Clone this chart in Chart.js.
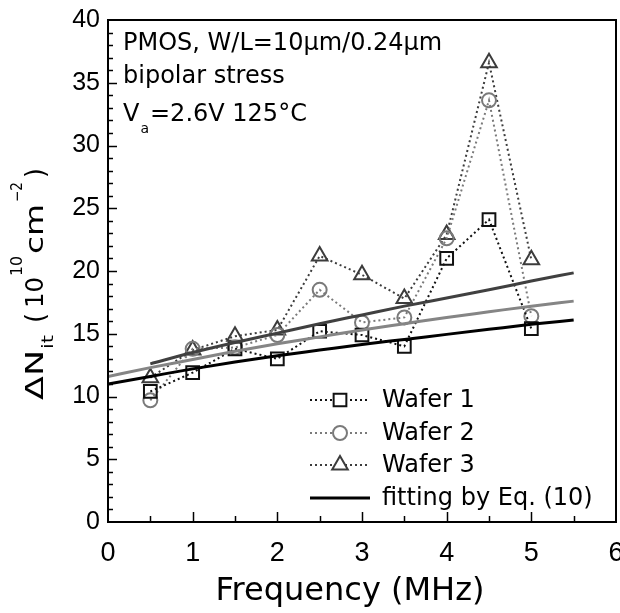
<!DOCTYPE html>
<html><head><meta charset="utf-8">
<script src="https://cdn.jsdelivr.net/npm/chart.js@4/dist/chart.umd.min.js"></script>
<style>html,body{margin:0;padding:0;background:#fff;overflow:hidden}#wrap{width:620px;height:613px;position:relative;overflow:hidden}</style>
</head><body><div id="wrap"><canvas id="c" width="627" height="613"></canvas></div>
<script>
// ---- data ----
const frequencies = [0.5, 1, 1.5, 2, 2.5, 3, 3.5, 4, 4.5, 5];
const wafer1 = [10.4, 11.9, 13.8, 13.0, 15.2, 14.9, 14.0, 21.0, 24.1, 15.4];
const wafer2 = [9.7, 13.8, 13.9, 14.9, 18.5, 15.9, 16.3, 22.6, 33.6, 16.4];
const wafer3 = [11.5, 13.7, 14.8, 15.3, 21.2, 19.7, 17.8, 22.9, 36.6, 20.9];
const fitFreqA = [0.5, 1, 1.5, 2, 2.5, 3, 3.5, 4, 4.5, 5, 5.5];
const fit3 = [12.6, 13.5, 14.3, 15.05, 15.8, 16.5, 17.2, 17.85, 18.5, 19.2, 19.85];
const fitFreqB = [0, 0.5, 1, 1.5, 2, 2.5, 3, 3.5, 4, 4.5, 5, 5.5];
const fit2 = [11.6, 12.3, 12.95, 13.6, 14.2, 14.75, 15.3, 15.8, 16.3, 16.75, 17.2, 17.6];
const fit1 = [11.0, 11.6, 12.2, 12.75, 13.25, 13.7, 14.15, 14.55, 14.95, 15.35, 15.75, 16.1];
const xLimits = [0, 6];
const yLimits = [0, 40];
const seriesNames = ['Wafer 1', 'Wafer 2', 'Wafer 3', 'fitting by Eq. (10)'];

const C1 = '#111111', C2 = '#7a7a7a', C3 = '#3c3c3c';
const pts = (xs, ys) => xs.map((x, i) => ({x, y: ys[i]}));

function waferSet(label, ys, color, style, radius) {
  return { label, data: pts(frequencies, ys), borderColor: color, backgroundColor: 'rgba(0,0,0,0)',
    borderWidth: 2, borderDash: [2, 3], pointStyle: style, pointRadius: radius, pointBorderColor: color,
    pointBorderWidth: 2, pointBackgroundColor: 'rgba(0,0,0,0)', showLine: true, tension: 0, order: 2 };
}
function fitSet(xs, ys, color) {
  return { label: seriesNames[3], data: pts(xs, ys), borderColor: color, borderWidth: 3, pointRadius: 0,
    showLine: true, cubicInterpolationMode: 'monotone', fill: false, order: 1 };
}

const FONT_NUM = '"Liberation Sans", Arial, sans-serif';
const FONT_TXT = '"DejaVu Sans", sans-serif';

const decor = {
  id: 'decor',
  afterDraw(chart) {
    const ctx = chart.ctx, a = chart.chartArea, xs = chart.scales.x, ys = chart.scales.y;
    ctx.save();
    // frame
    ctx.strokeStyle = '#000'; ctx.lineWidth = 2;
    ctx.strokeRect(a.left, a.top, a.right - a.left, a.bottom - a.top);
    // inward ticks
    ctx.lineWidth = 1.5;
    for (let v = yLimits[0]; v <= yLimits[1]; v += 1) {
      if (v === yLimits[0] || v === yLimits[1]) continue;
      const y = Math.round(ys.getPixelForValue(v)) + 0.5;
      const len = v % 5 === 0 ? 9 : 5;
      ctx.beginPath(); ctx.moveTo(a.left, y); ctx.lineTo(a.left + len, y); ctx.stroke();
    }
    for (let v = xLimits[0] + 0.5; v < xLimits[1]; v += 0.5) {
      const x = Math.round(xs.getPixelForValue(v)) + 0.5;
      const len = Number.isInteger(v) ? 10 : 6;
      ctx.beginPath(); ctx.moveTo(x, a.bottom); ctx.lineTo(x, a.bottom - len); ctx.stroke();
    }
    // annotation text
    ctx.fillStyle = '#000'; ctx.textBaseline = 'alphabetic'; ctx.textAlign = 'left';
    ctx.font = '24px ' + FONT_TXT;
    ctx.fillText('PMOS, W/L=10\u03bcm/0.24\u03bcm', 123, 50);
    ctx.fillText('bipolar stress', 123, 83);
    let x0 = 123;
    ctx.fillText('V', x0, 121); x0 += ctx.measureText('V').width;
    ctx.font = '14px ' + FONT_TXT; ctx.fillText('a', x0 + 1, 133); x0 += ctx.measureText('a').width + 2;
    ctx.font = '24px ' + FONT_TXT; ctx.fillText('=2.6V 125\u00b0C', x0, 121);

    // legend
    const lx0 = 310, lx1 = 370, mx = 340, tx = 382;
    const rows = [400, 433, 465, 498];
    ctx.font = '24px ' + FONT_TXT; ctx.textBaseline = 'middle';
    chart.data.datasets.slice(0, 3).forEach((ds, i) => {
      const y = rows[i];
      ctx.save();
      ctx.strokeStyle = ds.borderColor; ctx.lineWidth = ds.borderWidth; ctx.setLineDash(ds.borderDash);
      ctx.beginPath(); ctx.moveTo(lx0, y); ctx.lineTo(lx1, y); ctx.stroke();
      ctx.restore();
      ctx.save();
      ctx.fillStyle = '#fff'; ctx.strokeStyle = ds.pointBorderColor; ctx.lineWidth = ds.pointBorderWidth;
      Chart.helpers.drawPoint(ctx, {pointStyle: ds.pointStyle, radius: ds.pointRadius, borderWidth: ds.pointBorderWidth}, mx, y);
      ctx.restore();
      ctx.fillStyle = '#000';
      ctx.fillText(ds.label, tx, y + 1);
    });
    ctx.save(); ctx.strokeStyle = '#000'; ctx.lineWidth = 3;
    ctx.beginPath(); ctx.moveTo(lx0, rows[3]); ctx.lineTo(lx1, rows[3]); ctx.stroke(); ctx.restore();
    ctx.fillText(seriesNames[3], tx, rows[3] + 1);

    // x axis title
    ctx.textAlign = 'center'; ctx.textBaseline = 'alphabetic';
    ctx.font = '32px ' + FONT_TXT;
    ctx.fillText('Frequency (MHz)', 350, 600);

    // y axis title (rotated, with sub/superscripts); s = start along text, w = length, dy = baseline shift
    ctx.translate(43, 400); ctx.rotate(-Math.PI / 2);
    ctx.textAlign = 'left';
    const parts = [
      {t: '\u0394N', f: 25, s: 0, w: 50, dy: 0},
      {t: 'it', f: 15, s: 51, w: 14, dy: 10},
      {t: '(', f: 27, s: 77, w: 10, dy: 1},
      {t: '10', f: 25, s: 92, w: 31, dy: 0},
      {t: '10', f: 15, s: 124, w: 20, dy: -21},
      {t: 'cm', f: 25, s: 146, w: 50, dy: 0},
      {t: '\u22122', f: 15, s: 198, w: 20, dy: -21},
      {t: ')', f: 27, s: 222, w: 10, dy: 1}
    ];
    parts.forEach(p => {
      ctx.font = p.f + 'px ' + FONT_TXT;
      const nat = ctx.measureText(p.t).width;
      ctx.save(); ctx.translate(p.s, p.dy); ctx.scale(p.w / nat, 1);
      ctx.fillText(p.t, 0, 0); ctx.restore();
    });
    ctx.restore();
  }
};

new Chart(document.getElementById('c'), {
  type: 'scatter',
  data: {
    datasets: [
      waferSet(seriesNames[0], wafer1, C1, 'rect', 9),
      waferSet(seriesNames[1], wafer2, C2, 'circle', 7),
      waferSet(seriesNames[2], wafer3, C3, 'triangle', 9),
      fitSet(fitFreqB, fit1, '#000000'),
      fitSet(fitFreqB, fit2, '#858585'),
      fitSet(fitFreqA, fit3, '#404040')
    ]
  },
  options: {
    responsive: false, animation: false, devicePixelRatio: 1,
    layout: { padding: { left: 0, top: 20, right: 0, bottom: 0 } },
    plugins: { legend: { display: false }, tooltip: { enabled: false } },
    scales: {
      x: { type: 'linear', min: xLimits[0], max: xLimits[1],
        grid: { display: false, drawTicks: false }, border: { display: false },
        ticks: { stepSize: 1, color: '#000', padding: 15, maxRotation: 0, font: { family: FONT_NUM, size: 27 } },
        afterFit(s) { s.height = 91; s.paddingLeft = 0; s.paddingRight = 0; } },
      y: { type: 'linear', min: yLimits[0], max: yLimits[1],
        grid: { display: false, drawTicks: false }, border: { display: false },
        ticks: { stepSize: 5, color: '#000', padding: 8, font: { family: FONT_NUM, size: 25 } },
        afterFit(s) { s.width = 108; s.paddingTop = 0; s.paddingBottom = 0; } }
    }
  },
  plugins: [decor]
});
</script></body></html>
